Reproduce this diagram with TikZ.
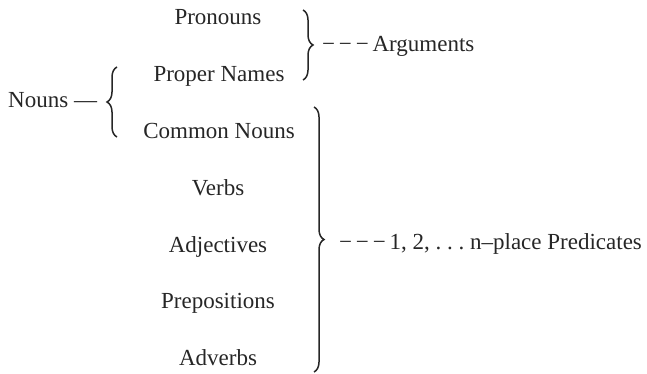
\documentclass[tikz,border=0pt]{standalone}
\usepackage{fontspec}
\setmainfont{Liberation Serif}
\usetikzlibrary{decorations.pathreplacing}
\begin{document}
\begin{tikzpicture}[x=1pt,y=-1pt,
  lbl/.style={anchor=base,inner sep=0pt,font=\fontsize{23}{27}\selectfont,text=black!85},
  lblw/.style={lbl,anchor=base west},
  brc/.style={decorate,decoration={brace,amplitude=10pt},line width=1.5pt,black!85}]
\useasboundingbox (0,0) rectangle (647,374);
\node[lbl] (pron) at (218,25) {Pronouns};
\node[lbl] (prop) at (219,82) {Proper Names};
\node[lbl] (comm) at (219,139) {Common Nouns};
\node[lbl] (verb) at (218,195) {Verbs};
\node[lbl] (adj) at (218,252) {Adjectives};
\node[lbl] (prep) at (218,308) {Prepositions};
\node[lbl] (adv) at (218,365) {Adverbs};
\node[lblw] (nouns) at (8,108) {Nouns —};
\node[lblw] (args) at (322,52) {−\,−\,−\,Arguments};
\node[lblw] (preds) at (339,249) {−\,−\,−\,1, 2, .\ .\ .\ n–place Predicates};
\coordinate (lb1) at (117,137);
\coordinate (lb2) at (117,67);
\coordinate (ab1) at (303,10);
\coordinate (ab2) at (303,80);
\coordinate (pb1) at (314,107);
\coordinate (pb2) at (314,372);
\draw[brc] (lb1) -- (lb2);
\draw[brc] (ab1) -- (ab2);
\draw[brc] (pb1) -- (pb2);
\end{tikzpicture}
\end{document}
